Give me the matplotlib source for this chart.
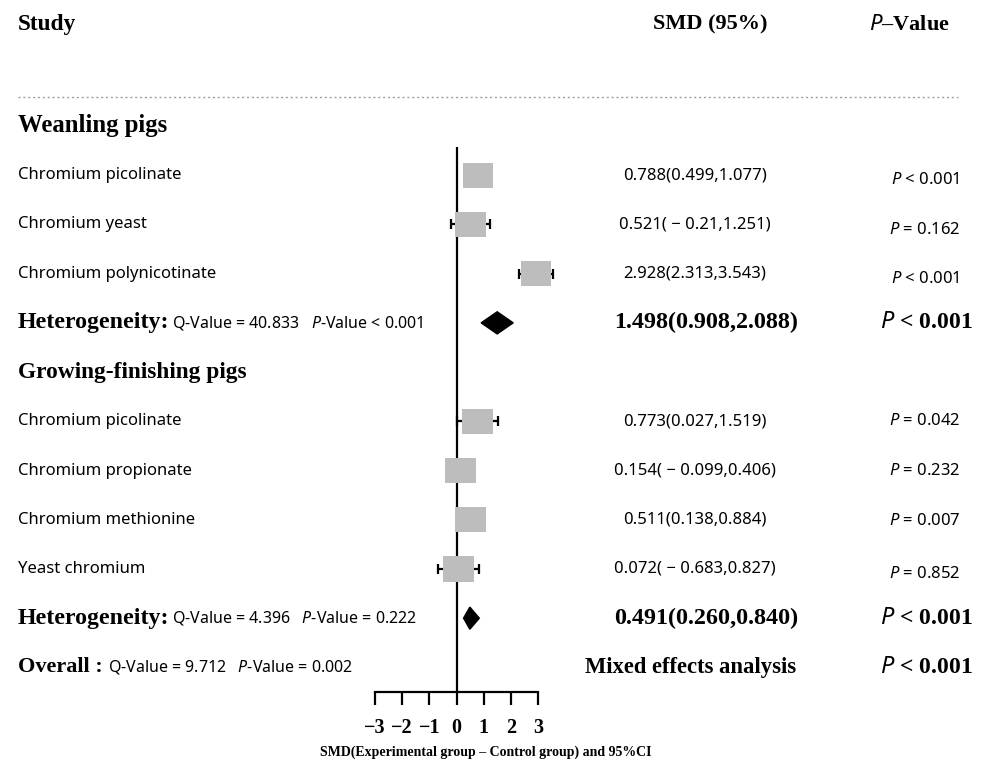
import matplotlib
matplotlib.use("Agg")
import matplotlib.pyplot as plt
from matplotlib.patches import Rectangle, Polygon
from matplotlib.lines import Line2D
from matplotlib.transforms import blended_transform_factory

plt.rcParams["mathtext.fontset"] = "custom"
plt.rcParams["mathtext.rm"] = "Noto Sans"
plt.rcParams["mathtext.it"] = "Noto Sans:italic"
plt.rcParams["mathtext.bf"] = "Noto Sans:bold"

# ---- data ----
weanling_names = ["Chromium picolinate", "Chromium yeast", "Chromium polynicotinate"]
weanling_smd = [0.788, 0.521, 2.928]
weanling_lo = [0.499, -0.21, 2.313]
weanling_hi = [1.077, 1.251, 3.543]
weanling_p = ["< 0.001", "= 0.162", "< 0.001"]
weanling_q = 40.833
weanling_qp = "< 0.001"
weanling_pooled = (1.498, 0.908, 2.088)

growing_names = ["Chromium picolinate", "Chromium propionate",
                 "Chromium methionine", "Yeast chromium"]
growing_smd = [0.773, 0.154, 0.511, 0.072]
growing_lo = [0.027, -0.099, 0.138, -0.683]
growing_hi = [1.519, 0.406, 0.884, 0.827]
growing_p = ["= 0.042", "= 0.232", "= 0.007", "= 0.852"]
growing_q = 4.396
growing_qp = "= 0.222"
growing_pooled = (0.491, 0.260, 0.840)

overall_q = 9.712
overall_qp = "= 0.002"
pooled_p = "< 0.001"

x_ticks = [-3, -2, -1, 0, 1, 2, 3]

# ---- styling ----
SERIF = "Liberation Serif"
SANS = "Noto Sans"
BOX_C = "#bdbdbd"
W, H = 983, 767
ROW_PX = 49.2                       # vertical spacing of rows in pixels
P_DY_WEAN = [5, 6, 5]               # small vertical nudges of p-value labels (px)
P_DY_GROW = [0, 0, 1, 5]

def fx(px):
    return px / W

def fmt(v):
    return " − " + f"{abs(v):g}" if v < 0 else f"{v:.3f}"

def ci_label(m, lo, hi):
    return f"{m:.3f}({fmt(lo)},{fmt(hi)})"

fig = plt.figure(figsize=(W / 100, H / 100), dpi=100)
ax = fig.add_axes([fx(375), 1 - 692 / H, (538 - 375) / W, (692 - 147) / H])
ax.set_xlim(-3, 3)
ax.set_ylim(11.5, 0.427)
tr = blended_transform_factory(fig.transFigure, ax.transData)

for s in ["top", "right", "left"]:
    ax.spines[s].set_visible(False)
ax.spines["bottom"].set_linewidth(1.6)
ax.set_yticks([])
ax.set_xticks(x_ticks)
ax.set_xticklabels([f"{t:d}".replace("-", "−") for t in x_ticks],
                   fontfamily=SERIF, fontweight="bold", fontsize=14.5)
ax.tick_params(axis="x", direction="out", length=9, width=1.6, pad=10)
ax.axvline(0, color="black", lw=1.6, zorder=2)

BOX_W, BOX_H = 1.12, 0.51
DIA_H = 0.225

def txt(x_px, k, s, **kw):
    ax.text(fx(x_px), k, s, transform=tr, va="center", clip_on=False, **kw)

def study_row(k, name, m, lo, hi, p, p_dy):
    ax.errorbar([m], [k], xerr=[[m - lo], [hi - m]], fmt="none", ecolor="black",
                elinewidth=1.6, capsize=3.6, capthick=1.6, zorder=1, clip_on=False)
    ax.add_patch(Rectangle((m - BOX_W / 2, k - BOX_H / 2), BOX_W, BOX_H,
                           facecolor=BOX_C, edgecolor="none", zorder=3, clip_on=False))
    txt(18, k, name, ha="left", fontfamily=SANS, fontsize=12)
    txt(695, k, ci_label(m, lo, hi), ha="center", fontfamily=SANS, fontsize=12)
    txt(960, k + p_dy / ROW_PX, r"$\mathit{P}$ " + p, ha="right",
        fontfamily=SANS, fontsize=12)

def pooled_row(k, label, q, qp, pooled, qx):
    m, lo, hi = pooled
    ax.add_patch(Polygon([(lo, k), (m, k - DIA_H), (hi, k), (m, k + DIA_H)],
                         closed=True, facecolor="black", edgecolor="black",
                         zorder=3, clip_on=False))
    txt(18, k, label, ha="left", fontfamily=SERIF, fontweight="bold", fontsize=17.2)
    txt(qx, k, f"Q-Value = {q}   " + r"$\mathit{P}$-Value " + qp,
        ha="left", fontfamily=SANS, fontsize=11.5)
    txt(706, k, ci_label(m, lo, hi), ha="center", fontfamily=SERIF,
        fontweight="bold", fontsize=17.4)
    txt(973, k, r"$\mathit{P}$ " + pooled_p, ha="right", fontfamily=SERIF,
        fontweight="bold", fontsize=17)

# header
hk = (25 - 126) / ROW_PX
txt(18, hk, "Study", ha="left", fontfamily=SERIF, fontweight="bold", fontsize=16.8)
txt(710, hk, "SMD (95%)", ha="center", fontfamily=SERIF, fontweight="bold",
    fontsize=16)
txt(909, hk, r"$\mathit{P}$–Value", ha="center", fontfamily=SERIF,
    fontweight="bold", fontsize=16)
fig.add_artist(Line2D([fx(18), fx(958)], [1 - 97 / H, 1 - 97 / H], color="#a0a0a0",
                      lw=1.0, ls=(0, (1.5, 2))))

# weanling pigs
txt(18, 0, "Weanling pigs", ha="left", fontfamily=SERIF, fontweight="bold",
    fontsize=17.8)
for i in range(len(weanling_names)):
    study_row(1 + i, weanling_names[i], weanling_smd[i], weanling_lo[i],
              weanling_hi[i], weanling_p[i], P_DY_WEAN[i])
pooled_row(4, "Heterogeneity:", weanling_q, weanling_qp, weanling_pooled, 172)

# growing-finishing pigs
txt(18, 5, "Growing-finishing pigs", ha="left", fontfamily=SERIF,
    fontweight="bold", fontsize=16.8)
for i in range(len(growing_names)):
    study_row(6 + i, growing_names[i], growing_smd[i], growing_lo[i],
              growing_hi[i], growing_p[i], P_DY_GROW[i])
pooled_row(10, "Heterogeneity:", growing_q, growing_qp, growing_pooled, 172)

# overall
txt(18, 11, "Overall :", ha="left", fontfamily=SERIF, fontweight="bold",
    fontsize=16)
txt(108, 11, f"Q-Value = {overall_q}   " + r"$\mathit{P}$-Value " + overall_qp,
    ha="left", fontfamily=SANS, fontsize=11.5)
txt(691, 11, "Mixed effects analysis", ha="center", fontfamily=SERIF,
    fontweight="bold", fontsize=16.3)
txt(973, 11, r"$\mathit{P}$ " + pooled_p, ha="right", fontfamily=SERIF,
    fontweight="bold", fontsize=17)

fig.text(fx(486), 1 - 752 / H, "SMD(Experimental group – Control group) and 95%CI",
         ha="center", va="center", fontfamily=SERIF, fontweight="bold", fontsize=10)

fig.savefig("out.png", dpi=100)
